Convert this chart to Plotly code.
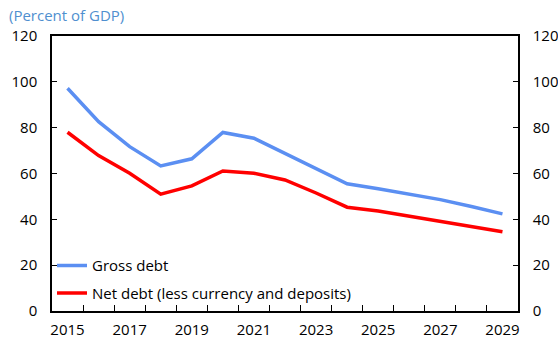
import plotly.graph_objects as go

years = list(range(2015, 2030))
gross_debt = [97.2, 82.6, 71.7, 63.3, 66.4, 77.9, 75.4, 68.8, 62.0, 55.5, 53.3, 51.0, 48.6, 45.6, 42.4]
net_debt = [78.0, 67.8, 60.1, 51.0, 54.6, 61.1, 60.1, 57.2, 51.5, 45.3, 43.6, 41.4, 39.0, 36.7, 34.6]
tick_years = [2015, 2017, 2019, 2021, 2023, 2025, 2027, 2029]
y_ticks = [0, 20, 40, 60, 80, 100, 120]

FONT = "Open Sans"
fig = go.Figure()
fig.add_trace(go.Scatter(x=years, y=gross_debt, mode="lines", name="Gross debt",
                         line=dict(color="#5b8ff2", width=3.5), legendgroup="a"))
fig.add_trace(go.Scatter(x=years, y=net_debt, mode="lines", name="Net debt (less currency and deposits)",
                         line=dict(color="#ff0000", width=3.5), legendgroup="b"))
# invisible trace for right axis
fig.add_trace(go.Scatter(x=[years[0]], y=[0], yaxis="y2", mode="markers",
                         marker=dict(opacity=0), showlegend=False, hoverinfo="skip"))

fig.update_layout(
    width=558, height=340,
    margin=dict(l=52, r=40, t=36, b=29, autoexpand=False),
    plot_bgcolor="white", paper_bgcolor="white",
    font=dict(family=FONT, size=15, color="black"),
    showlegend=True,
    legend=dict(x=0.0, y=0.225, xanchor="left", yanchor="top", bgcolor="rgba(0,0,0,0)",
                font=dict(size=15), traceorder="grouped", tracegroupgap=5,
                itemwidth=30),
    xaxis=dict(range=[2014.5, 2029.5], tickvals=tick_years, ticktext=[str(y) for y in tick_years],
               ticks="", showline=True, linecolor="black", linewidth=1.5, mirror=True,
               showgrid=False, zeroline=False, automargin=False, ticklabelstandoff=4,
               minor=dict(tickvals=[y + 0.5 for y in years[:-1]], ticks="inside", ticklen=6,
                          tickcolor="black", tickwidth=1, showgrid=False)),
    yaxis=dict(range=[0, 120], tickvals=y_ticks, ticks="inside", ticklen=5, tickcolor="black",
               showline=True, linecolor="black", linewidth=1.5, showgrid=False, zeroline=False,
               automargin=False, ticklabelstandoff=10),
    yaxis2=dict(range=[0, 120], tickvals=y_ticks, ticks="inside", ticklen=5, tickcolor="black",
                overlaying="y", side="right", showline=True, linecolor="black", linewidth=1.5,
                showgrid=False, zeroline=False, ticklabelstandoff=10, automargin=False),
    annotations=[dict(text="(Percent of GDP)", xref="paper", yref="paper", x=-0.096, y=1.075,
                      xanchor="left", yanchor="middle", showarrow=False,
                      font=dict(size=15, color="#4f8fcf", family=FONT))],
)
fig.write_html("out.html", config={"displayModeBar": False},
               post_script="document.body.style.margin='0';document.body.style.padding='0';")
